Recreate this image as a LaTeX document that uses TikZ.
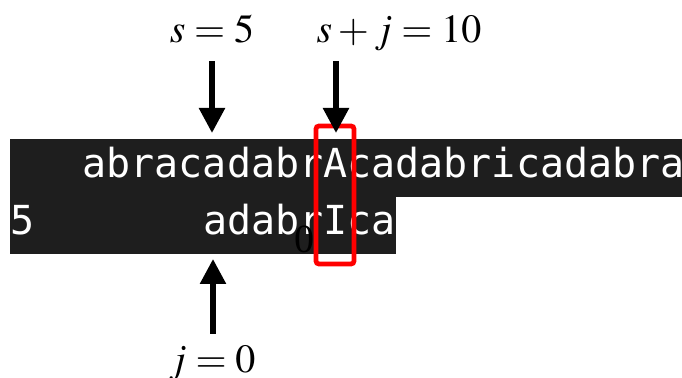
\documentclass[tikz,border=0pt]{standalone}
\usepackage{mathptmx}
\usepackage{fontspec}
\setmainfont{Liberation Serif}
\newfontfamily\monofont{DejaVu Sans Mono}
\usetikzlibrary{arrows.meta}

\definecolor{barcol}{HTML}{1E1E1E}

\begin{document}
\begin{tikzpicture}[x=0.5pt, y={(0pt,-0.5pt)},
    every node/.style={inner sep=0pt},
    code/.style={anchor=base west, text=white, font=\monofont\fontsize{20}{24}\selectfont},
    lbl/.style={anchor=base, font=\fontsize{20}{24}\selectfont},
    arr/.style={line width=2.75pt, -{Triangle[length=12.5pt, width=12.5pt]}}]

\useasboundingbox (0,0) rectangle (682,378);

% text and pattern rows
\fill[barcol] (10,139) rectangle (682,197);
\fill[barcol] (10,197) rectangle (396,254);

\node[code] (txt) at (82.2,178) {abracadabrAcadabricadabra};
\node[code] (shift) at (10,235) {5};
\node[code] (pat) at (202.6,235) {adabrIca};

\node[lbl] (zero) at (304,253) {0};

% mismatch
\draw[red, line width=2.4pt, rounded corners=1.5pt] (316,126) rectangle (354,264);

% labels
\node[lbl] (s) at (212,43) {$s=5$};
\node[lbl] (sj) at (399,43) {$s+j=10$};
\node[lbl] (j) at (212,373) {$j=0$};

\coordinate (sTip) at (212,133);
\coordinate (sjTip) at (336,133);
\coordinate (jTip) at (213,259);

\draw[arr, shorten <=8.5pt] (sTip |- s.south) -- (sTip);
\draw[arr, shorten <=4.5pt] (sjTip |- sj.south) -- (sjTip);
\draw[arr, shorten <=6pt] (jTip |- j.north) -- (jTip);

\end{tikzpicture}
\end{document}
